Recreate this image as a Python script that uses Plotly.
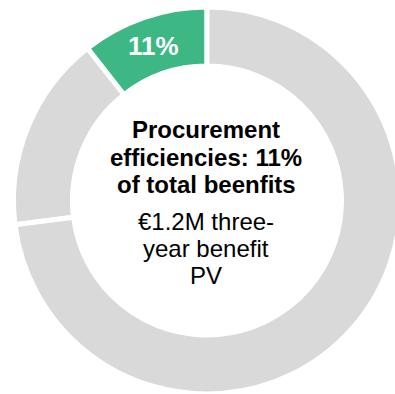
import plotly.graph_objects as go

# ---- data ----
segment_names = ["Procurement efficiencies", "Other benefits A", "Other benefits B"]
segment_values = [10.6, 16.4, 73.0]
segment_labels = ["11%", "", ""]
segment_colors = ["#3DB884", "#D9D9D9", "#D9D9D9"]

title_lines = ["Procurement", "efficiencies: 11%", "of total beenfits"]
subtitle_lines = ["€1.2M three-", "year benefit", "PV"]

# ---- layout geometry (pixels) ----
W, H = 420, 394
cx, cy, r = 207, 200.5, 193.5
FONT = "Arial, Liberation Sans, sans-serif"

# plotly's counterclockwise pies end the first slice at `rotation`;
# rotate so the first slice starts at 12 o'clock and runs counterclockwise
first_share = segment_values[0] / sum(segment_values)
rotation = -first_share * 360

fig = go.Figure(
    go.Pie(
        labels=segment_names,
        values=segment_values,
        text=segment_labels,
        textinfo="text",
        textposition="inside",
        insidetextorientation="horizontal",
        textfont=dict(family=FONT, size=26, color="white", weight="bold"),
        marker=dict(colors=segment_colors, line=dict(color="white", width=5)),
        hole=0.695,
        sort=False,
        direction="counterclockwise",
        rotation=rotation,
        hoverinfo="none",
        showlegend=False,
        domain=dict(x=[(cx - r) / W, (cx + r) / W], y=[max(0, (H - cy - r) / H), (H - cy + r) / H]),
    )
)

annotations = []
text_x = 206
for i, line in enumerate(title_lines):
    y_px = 129.7 + 27.5 * i
    annotations.append(dict(
        text=line, x=text_x / W, y=(H - y_px) / H, xref="paper", yref="paper",
        xanchor="center", yanchor="middle", showarrow=False,
        font=dict(family=FONT, size=24, color="black", weight="bold"),
    ))
for i, line in enumerate(subtitle_lines):
    y_px = 221.7 + 27 * i
    annotations.append(dict(
        text=line, x=text_x / W, y=(H - y_px) / H, xref="paper", yref="paper",
        xanchor="center", yanchor="middle", showarrow=False,
        font=dict(family=FONT, size=24, color="black"),
    ))

fig.update_layout(
    width=W, height=H,
    margin=dict(l=0, r=0, t=0, b=0),
    paper_bgcolor="white", plot_bgcolor="white",
    annotations=annotations,
)

fig.write_html(
    "out.html",
    post_script="document.body.style.margin='0';document.body.style.overflow='hidden';document.documentElement.style.overflow='hidden';",
)
